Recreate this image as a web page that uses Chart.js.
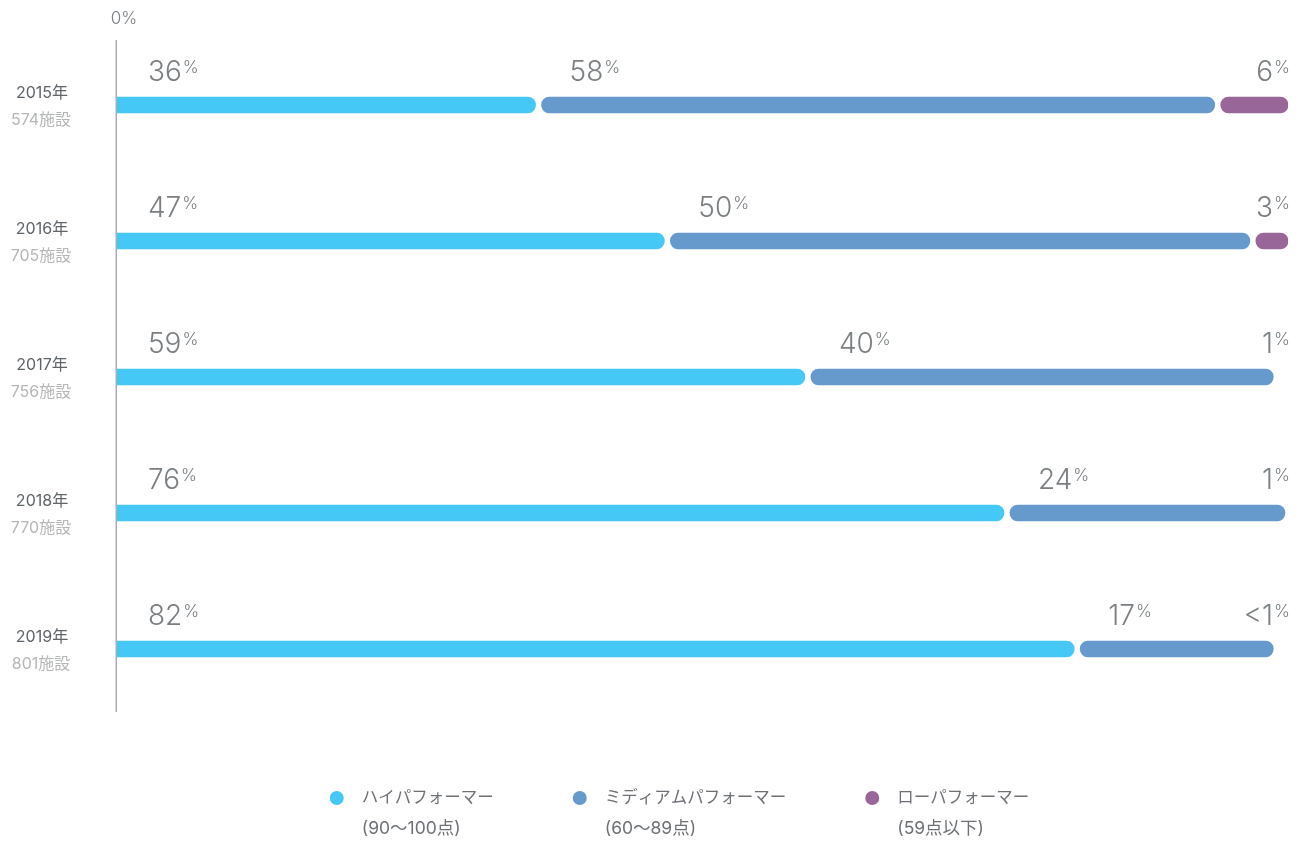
<!DOCTYPE html>
<html lang="ja">
<head>
<meta charset="utf-8">
<title>パフォーマンス分布</title>
<script src="https://cdn.jsdelivr.net/npm/chart.js@4.4.1/dist/chart.umd.min.js"></script>
<style>
  html, body { margin: 0; padding: 0; background: #ffffff; }
  #wrap { position: relative; width: 1302px; height: 846px; }
</style>
</head>
<body>
<div id="wrap"><canvas id="chart"></canvas></div>
<script>
// Survey years and number of facilities per year
const years = ['2015年', '2016年', '2017年', '2018年', '2019年'];
const facilities = ['574施設', '705施設', '756施設', '770施設', '801施設'];

// Share of facilities per performance group (%)
const highPerformers = [36, 47, 59, 76, 82];
const mediumPerformers = [58, 50, 40, 24, 17];
const lowPerformers = [6, 3, 1, 1, 0.5];

// Legend names and score ranges
const groupNames = ['ハイパフォーマー', 'ミディアムパフォーマー', 'ローパフォーマー'];
const groupRanges = ['(90〜100点)', '(60〜89点)', '(59点以下)'];

const COLORS = ['#45c8f5', '#6699cc', '#996699'];
const TEXT_GREY = '#7a7f83';
const JP_FONT = "Inter, 'Noto Sans CJK JP', sans-serif";
const NUM_FONT = "Inter, 'Noto Sans', sans-serif";
const GAP = 3;          // half of the white gap between adjacent segments
const MIN_VISIBLE = 2;  // segments below this share are too thin to draw as a pill

function fmtPct(v) { return v < 1 ? '<1' : String(v); }

// Open a small gap between neighbouring segments of each stack
const segmentGaps = {
  id: 'segmentGaps',
  afterDatasetsUpdate(chart) {
    const n = chart.data.datasets.length;
    chart.data.datasets.forEach((ds, i) => {
      const meta = chart.getDatasetMeta(i);
      meta.data.forEach(el => {
        if (i > 0) el.base += GAP;
        if (i < n - 1) el.x -= GAP;
      });
    });
  }
};

// Axis line, year labels, value labels and legend
const decorations = {
  id: 'decorations',
  beforeDatasetsDraw(chart) {
    const { ctx, chartArea } = chart;
    ctx.save();
    ctx.strokeStyle = '#a9adb0';
    ctx.lineWidth = 1.5;
    ctx.beginPath();
    ctx.moveTo(chartArea.left - 0.75, chartArea.top + 3);
    ctx.lineTo(chartArea.left - 0.75, chartArea.bottom - 5);
    ctx.stroke();
    ctx.restore();
  },
  afterDraw(chart) {
    const { ctx, chartArea, scales } = chart;
    const xs = scales.x, ys = scales.y;
    ctx.save();

    // 0% marker above the axis
    ctx.font = '300 17px ' + NUM_FONT;
    ctx.fillStyle = '#7a7f83';
    ctx.textAlign = 'center';
    ctx.textBaseline = 'alphabetic';
    ctx.fillText('0%', xs.getPixelForValue(0) + 7, 24);

    // Year and facility count on the left
    years.forEach((yr, i) => {
      const cy = ys.getPixelForValue(i);
      ctx.textAlign = 'center';
      ctx.font = '16px ' + JP_FONT;
      ctx.fillStyle = '#5f6468';
      ctx.fillText(yr, 42, cy - 7);
      ctx.fillStyle = '#b4b6b8';
      ctx.fillText(facilities[i], 41, cy + 20);
    });

    // Value labels above each segment
    const drawLabel = (value, x, y, align) => {
      const num = fmtPct(value);
      ctx.fillStyle = TEXT_GREY;
      ctx.textAlign = 'left';
      ctx.font = '300 28px ' + NUM_FONT;
      const nw = ctx.measureText(num).width;
      ctx.font = '300 17px ' + NUM_FONT;
      const pw = ctx.measureText('%').width;
      const left = align === 'right' ? x - nw - pw - 1 : x;
      ctx.font = '300 28px ' + NUM_FONT;
      ctx.fillText(num, left, y);
      ctx.font = '300 17px ' + NUM_FONT;
      ctx.fillText('%', left + nw + 1, y - 8);
    };
    const sets = chart.data.datasets;
    years.forEach((yr, i) => {
      const y = ys.getPixelForValue(i) - 24;
      let start = 0;
      sets.forEach((ds, d) => {
        const v = ds.data[i];
        if (d < sets.length - 1) {
          drawLabel(v, xs.getPixelForValue(start) + 31, y, 'left');
        } else {
          drawLabel(v, chartArea.right + 2, y, 'right');
        }
        start += v;
      });
    });

    // Legend with two-line entries
    const nameFont = '16.5px ' + JP_FONT;
    const rangeFont = '17.5px ' + JP_FONT;
    const itemGap = 86, dotToText = 25;
    const widths = groupNames.map((g, k) => {
      ctx.font = nameFont;
      const a = ctx.measureText(g).width;
      ctx.font = rangeFont;
      const b = ctx.measureText(groupRanges[k]).width;
      return Math.max(a, b);
    });
    const total = widths.reduce((a, w) => a + dotToText + w, 0) + itemGap * (widths.length - 1);
    let x = 676 - total / 2 + 7;
    const ly = 798;
    groupNames.forEach((g, k) => {
      ctx.fillStyle = COLORS[k];
      ctx.beginPath();
      ctx.arc(x, ly, 7, 0, Math.PI * 2);
      ctx.fill();
      ctx.fillStyle = '#6d7175';
      ctx.textAlign = 'left';
      ctx.textBaseline = 'middle';
      ctx.font = nameFont;
      ctx.fillText(g, x + dotToText, ly);
      ctx.font = rangeFont;
      ctx.fillText(groupRanges[k], x + dotToText, ly + 31);
      x += dotToText + widths[k] + itemGap;
    });
    ctx.restore();
  }
};

const pillColor = (base) => (c) =>
  (c.raw !== undefined && c.raw < MIN_VISIBLE) ? 'rgba(0,0,0,0)' : base;

new Chart(document.getElementById('chart'), {
  type: 'bar',
  data: {
    labels: years,
    datasets: [
      {
        label: groupNames[0], data: highPerformers,
        backgroundColor: COLORS[0], borderWidth: 0,
        borderSkipped: 'start',
        borderRadius: { topLeft: 0, bottomLeft: 0, topRight: 8, bottomRight: 8 }
      },
      {
        label: groupNames[1], data: mediumPerformers,
        backgroundColor: pillColor(COLORS[1]), borderWidth: 0,
        borderSkipped: false,
        borderRadius: { topLeft: 8, bottomLeft: 8, topRight: 8, bottomRight: 8 }
      },
      {
        label: groupNames[2], data: lowPerformers,
        backgroundColor: pillColor(COLORS[2]), borderWidth: 0,
        borderSkipped: false,
        borderRadius: { topLeft: 8, bottomLeft: 8, topRight: 8, bottomRight: 8 }
      }
    ]
  },
  options: {
    indexAxis: 'y',
    responsive: true,
    maintainAspectRatio: false,
    animation: false,
    barThickness: 16,
    layout: { padding: { left: 117, right: 14, top: 37, bottom: 129 } },
    scales: {
      x: { type: 'linear', stacked: true, min: 0, max: 100, display: false },
      y: { type: 'category', stacked: true, display: false }
    },
    plugins: {
      legend: { display: false },
      tooltip: { enabled: false }
    }
  },
  plugins: [segmentGaps, decorations]
});
</script>
</body>
</html>
